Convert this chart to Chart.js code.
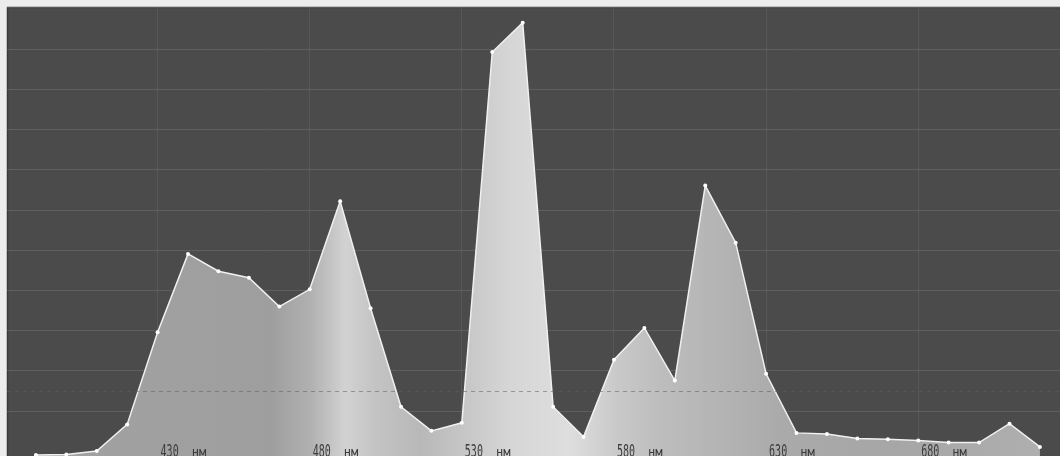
<!DOCTYPE html>
<html>
<head>
<meta charset="utf-8">
<script src="https://cdn.jsdelivr.net/npm/chart.js@4.4.1/dist/chart.umd.min.js"></script>
<style>
  html, body { margin: 0; padding: 0; background: #ececec; overflow: hidden; }
  #wrap { width: 1060px; height: 456px; }
</style>
</head>
<body>
<div id="wrap"><canvas id="c" width="1060" height="456"></canvas></div>
<script>
// Wavelengths (nm) of the sampled points
const wavelengths = [390, 400, 410, 420, 430, 440, 450, 460, 470, 480, 490, 500, 510, 520, 530, 540, 550,
                     560, 570, 580, 590, 600, 610, 620, 630, 640, 650, 660, 670, 680, 690, 700, 710, 720];
// Relative intensity
const intensity = [-0.9, -0.8, 0.1, 6.7, 29.6, 49.1, 44.8, 43.2, 36.0, 40.3, 62.2, 35.6, 11.1, 5.1, 7.1, 99.3, 106.6,
                   11.1, 3.6, 22.8, 30.7, 17.6, 66.1, 51.9, 19.3, 4.6, 4.3, 3.2, 3.0, 2.7, 2.2, 2.2, 6.9, 1.1];
// Labelled wavelengths on the axis
const tickWavelengths = [430, 480, 530, 580, 630, 680];
const tickLabels = ['430', '480', '530', '580', '630', '680'];
const unitLabel = 'нм';
// Dashed reference level
const referenceLevel = 15.0;

const bgPlugin = {
  id: 'bg',
  beforeDraw(chart) {
    const { ctx, chartArea: a } = chart;
    ctx.save();
    ctx.fillStyle = '#4b4b4b';
    ctx.fillRect(a.left, a.top, a.right - a.left, a.bottom - a.top);
    ctx.strokeStyle = '#3a3a3a';
    ctx.lineWidth = 1.5;
    ctx.beginPath();
    ctx.moveTo(a.left, a.top + 0.5); ctx.lineTo(a.right, a.top + 0.5);
    ctx.moveTo(a.left + 0.5, a.top); ctx.lineTo(a.left + 0.5, a.bottom);
    ctx.stroke();
    ctx.restore();
  },
  afterDatasetsDraw(chart) {
    const { ctx, chartArea: a, scales } = chart;
    const x = scales.x, y = scales.y;
    ctx.save();
    // dashed reference line
    const yr = Math.round(y.getPixelForValue(referenceLevel)) + 0.5;
    ctx.strokeStyle = 'rgba(95,95,95,0.55)';
    ctx.setLineDash([4, 4]);
    ctx.lineWidth = 1;
    ctx.beginPath();
    ctx.moveTo(a.left, yr); ctx.lineTo(a.right, yr);
    ctx.stroke();
    ctx.setLineDash([]);
    // axis labels drawn inside the plot, left-aligned at the grid lines
    ctx.fillStyle = '#3c3c3c';
    ctx.textBaseline = 'alphabetic';
    ctx.textAlign = 'left';
    tickWavelengths.forEach((w, i) => {
      const px = x.getPixelForValue(w) + 3;
      ctx.save();
      ctx.translate(px, a.bottom + 1);
      ctx.scale(1, 1.7);
      ctx.font = '10px "DejaVu Sans Mono", monospace';
      ctx.fillText(tickLabels[i], 0, 0);
      const wNum = ctx.measureText(tickLabels[i]).width;
      ctx.restore();
      ctx.save();
      ctx.translate(px + wNum + 13, a.bottom + 1);
      ctx.scale(1.35, 1.6);
      ctx.font = '9px "DejaVu Sans Mono", monospace';
      ctx.fillText(unitLabel, 0, 0);
      ctx.restore();
    });
    ctx.restore();
  }
};

function fillGradient(context) {
  const chart = context.chart;
  const a = chart.chartArea;
  if (!a) return '#a8a8a8';
  const g = chart.ctx.createLinearGradient(a.left, 0, a.right, 0);
  const W = a.right - a.left;
  const stops = [
    [0, '#a2a2a2'], [170, '#a0a0a0'], [270, '#9e9e9e'], [310, '#b0b0b0'], [345, '#d2d2d2'],
    [375, '#c4c4c4'], [420, '#b8b8b8'], [470, '#c8c8c8'], [510, '#d6d6d6'], [570, '#dedede'],
    [620, '#c8c8c8'], [660, '#bdbdbd'], [720, '#b4b4b4'], [780, '#aaaaaa'], [900, '#a6a6a6'], [1060, '#b0b0b0']
  ];
  stops.forEach(([px, c]) => g.addColorStop(Math.min(1, Math.max(0, (px - a.left) / W)), c));
  return g;
}

new Chart(document.getElementById('c'), {
  type: 'line',
  data: {
    datasets: [{
      data: wavelengths.map((w, i) => ({ x: w, y: intensity[i] })),
      borderColor: '#f0f0f0',
      borderWidth: 1.5,
      backgroundColor: fillGradient,
      fill: 'start',
      tension: 0,
      pointRadius: 2,
      pointBackgroundColor: '#ffffff',
      pointBorderWidth: 0
    }]
  },
  options: {
    responsive: false,
    animation: false,
    events: [],
    layout: { autoPadding: false, padding: { left: 7, top: 7, right: 0, bottom: 0 } },
    plugins: { legend: { display: false }, tooltip: { enabled: false } },
    scales: {
      x: {
        type: 'linear',
        min: 380.5,
        max: 726.6,
        z: 1,
        afterBuildTicks: (s) => { s.ticks = tickWavelengths.map(v => ({ value: v })); },
        grid: { color: 'rgba(120,120,120,0.28)', lineWidth: 1, drawTicks: false },
        border: { display: false },
        ticks: { display: false }
      },
      y: {
        min: -1.15,
        max: 110.5,
        z: 1,
        ticks: { display: false, stepSize: 10 },
        grid: { color: 'rgba(115,115,115,0.5)', lineWidth: 1, drawTicks: false },
        border: { display: false }
      }
    }
  },
  plugins: [bgPlugin]
});
</script>
</body>
</html>
